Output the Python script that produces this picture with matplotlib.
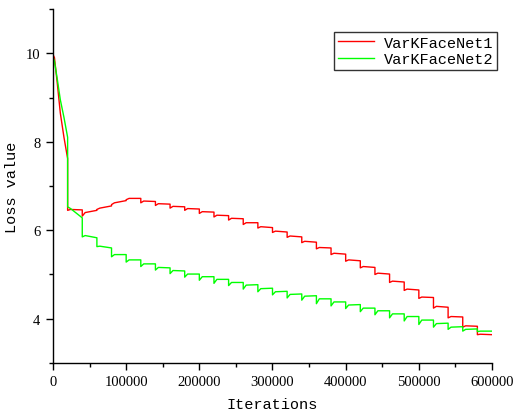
import numpy as np
import matplotlib.pyplot as plt
from matplotlib.ticker import MultipleLocator

plt.rcParams['font.family'] = ['Liberation Serif', 'DejaVu Serif']
mono = ['Liberation Mono', 'DejaVu Sans Mono']

# first (warm-up) segment, 0..20000 iterations
head_iters = [0, 2000, 6000, 10000, 15000, 20000]
head_net1 = [9.97, 9.90, 9.30, 8.65, 8.10, 7.62]
head_net2 = [9.92, 9.82, 9.40, 8.95, 8.55, 8.10]

# stepped part: one segment every 20000 iterations from 20000 to 600000
seg_len = 20000
seg_starts = np.arange(20000, 600000, seg_len)

# value right after each step, shortly after (+4000) and at the end of the segment
net1_low = [6.45, 6.32, 6.47, 6.58, 6.69, 6.62, 6.56, 6.50, 6.45, 6.38,
            6.30, 6.23, 6.13, 6.05, 5.95, 5.84, 5.72, 5.58, 5.45, 5.30,
            5.15, 5.00, 4.82, 4.64, 4.46, 4.24, 4.02, 3.81, 3.64]
net1_mid = [6.47, 6.40, 6.50, 6.62, 6.72, 6.66, 6.60, 6.54, 6.49, 6.42,
            6.34, 6.27, 6.17, 6.08, 5.98, 5.87, 5.75, 5.61, 5.48, 5.33,
            5.18, 5.03, 4.85, 4.67, 4.49, 4.28, 4.05, 3.84, 3.65]
net1_end = [6.46, 6.45, 6.55, 6.67, 6.72, 6.65, 6.59, 6.53, 6.48, 6.41,
            6.33, 6.26, 6.17, 6.06, 5.96, 5.85, 5.73, 5.60, 5.46, 5.31,
            5.16, 5.01, 4.83, 4.65, 4.48, 4.26, 4.04, 3.83, 3.64]

net2_low = [6.53, 5.85, 5.63, 5.40, 5.28, 5.18, 5.10, 5.02, 4.94, 4.87,
            4.80, 4.75, 4.67, 4.61, 4.54, 4.47, 4.42, 4.34, 4.29, 4.23,
            4.16, 4.09, 4.02, 3.95, 3.87, 3.81, 3.76, 3.72, 3.71]
net2_mid = [6.49, 5.88, 5.64, 5.45, 5.33, 5.24, 5.16, 5.09, 5.01, 4.95,
            4.89, 4.82, 4.76, 4.68, 4.61, 4.55, 4.51, 4.45, 4.38, 4.31,
            4.24, 4.18, 4.11, 4.05, 3.97, 3.89, 3.81, 3.76, 3.72]
net2_end = [6.28, 5.83, 5.60, 5.45, 5.33, 5.24, 5.15, 5.08, 5.01, 4.95,
            4.89, 4.82, 4.77, 4.69, 4.62, 4.56, 4.52, 4.45, 4.38, 4.32,
            4.24, 4.18, 4.11, 4.05, 3.97, 3.90, 3.82, 3.77, 3.72]


def build(head_x, head_y, low, mid, end):
    xs = list(head_x)
    ys = list(head_y)
    for s, a, b, c in zip(seg_starts, low, mid, end):
        xs += [s, s + 4000, s + seg_len]
        ys += [a, b, c]
    return xs, ys


x1, y1 = build(head_iters, head_net1, net1_low, net1_mid, net1_end)
x2, y2 = build(head_iters, head_net2, net2_low, net2_mid, net2_end)

fig = plt.figure(figsize=(5.16, 4.14), dpi=100)
ax = fig.add_axes([0.1027, 0.1208, 0.8508, 0.855])

ax.plot(x1, y1, color='#ff0000', lw=1.0, label='VarKFaceNet1')
ax.plot(x2, y2, color='#00ff00', lw=1.0, label='VarKFaceNet2')

ax.set_xlim(0, 600000)
ax.set_ylim(3, 11)
ax.xaxis.set_major_locator(MultipleLocator(100000))
ax.xaxis.set_minor_locator(MultipleLocator(50000))
ax.yaxis.set_minor_locator(MultipleLocator(1))
ax.set_yticks([4, 6, 8, 10])
ax.tick_params(which='major', direction='out', length=5, width=1, labelsize=10.5, pad=4)
ax.tick_params(which='minor', direction='out', length=3, width=1)
for side in ('top', 'right'):
    ax.spines[side].set_visible(False)
for side in ('left', 'bottom'):
    ax.spines[side].set_linewidth(1)

ax.set_xlabel('Iterations', fontsize=11, family=mono, labelpad=6)
ax.set_ylabel('Loss value', fontsize=11, family=mono, labelpad=5)

leg = ax.legend(loc='upper right', bbox_to_anchor=(1.011, 0.935), borderaxespad=0,
                prop={'family': mono, 'size': 11}, frameon=True, fancybox=False,
                handlelength=2.4, handletextpad=0.6, borderpad=0.25, labelspacing=0.15)
leg.get_frame().set_edgecolor('black')
leg.get_frame().set_linewidth(1)

fig.savefig('out.png', dpi=100)
plt.close(fig)
